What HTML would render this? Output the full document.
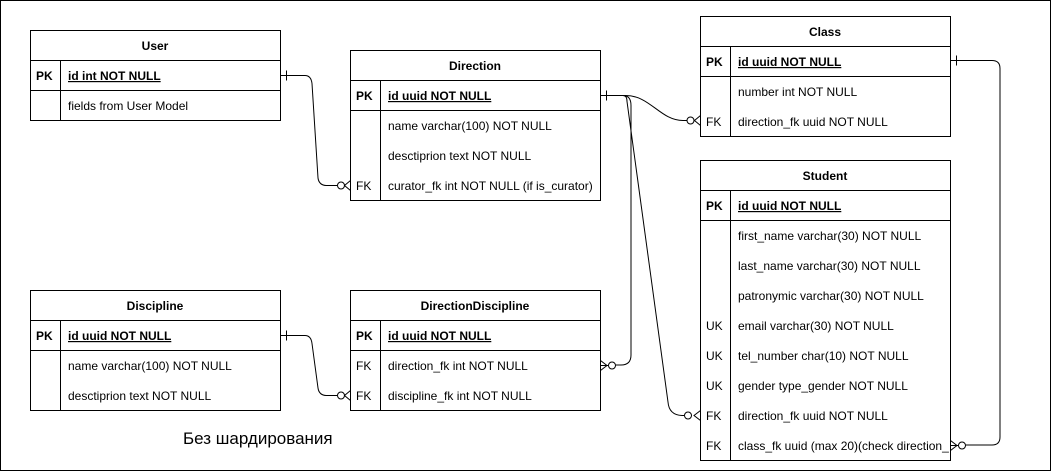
<!DOCTYPE html>
<html><head><style>
html,body{margin:0;padding:0;background:#fff;}
svg{display:block;}
text{font-family:"Liberation Sans",Arial,sans-serif;font-size:12px;fill:#000;}
.t{font-weight:bold;}
</style></head><body>
<svg width="1051" height="471" viewBox="0 0 1051 471" xmlns="http://www.w3.org/2000/svg">
<rect x="0.5" y="0.5" width="1050" height="470" fill="#fff" stroke="#000"/>
<g fill="none" stroke="#000" stroke-width="1">
<!-- User -->
<rect x="30.5" y="30.5" width="250" height="90"/>
<path d="M30.5 60.5H280.5M30.5 90.5H280.5M60.5 60.5V120.5"/>
<!-- Direction -->
<rect x="350.5" y="50.5" width="250" height="150"/>
<path d="M350.5 80.5H600.5M350.5 110.5H600.5M380.5 80.5V200.5"/>
<!-- Class -->
<rect x="700.5" y="16.5" width="250" height="120"/>
<path d="M700.5 46.5H950.5M700.5 76.5H950.5M730.5 46.5V136.5"/>
<!-- Student -->
<rect x="700.5" y="160.5" width="250" height="300"/>
<path d="M700.5 190.5H950.5M700.5 220.5H950.5M730.5 190.5V460.5"/>
<!-- Discipline -->
<rect x="30.5" y="290.5" width="250" height="120"/>
<path d="M30.5 320.5H280.5M30.5 350.5H280.5M60.5 320.5V410.5"/>
<!-- DirectionDiscipline -->
<rect x="350.5" y="290.5" width="250" height="120"/>
<path d="M350.5 320.5H600.5M350.5 350.5H600.5M380.5 320.5V410.5"/>

<!-- connectors -->
<path d="M280.5 75.5H305q6 0 7 8L318 178q1 7 8 7.5H337"/>
<path d="M286.5 70.5v10"/>
<circle cx="341" cy="185.5" r="3.5"/>
<path d="M350.5 180.5L344.5 185.5L350.5 190.5"/>

<path d="M280.5 335.5H305q6 0 7 8L318 388q1 7 8 7.5H337"/>
<path d="M286.5 330.5v10"/>
<circle cx="341" cy="395.5" r="3.5"/>
<path d="M350.5 390.5L344.5 395.5L350.5 400.5"/>

<path d="M600.5 95.5H625C650 95 660 120.5 683 120.5H687"/>
<path d="M606.5 90.5v10"/>
<circle cx="690.5" cy="120.5" r="3.5"/>
<path d="M700.5 115.5L694.5 120.5L700.5 125.5"/>

<path d="M623 95.5q8 0 8 10V355q0 10-10 10H616"/>
<circle cx="612" cy="365.5" r="3.5"/>
<path d="M600.5 360.5L607 365.5L600.5 370.5M600.5 365.5H608"/>

<path d="M623 95.5q4 0 4 6L668 402q1 13 14 13.5H684"/>
<circle cx="688" cy="415.5" r="3.5"/>
<path d="M700.5 410.5L694 415.5L700.5 420.5"/>

<path d="M950.5 60.5H992q8 0 8 8V437q0 8-8 8H966"/>
<path d="M956.5 55.5v10"/>
<circle cx="962" cy="445.5" r="3.5"/>
<path d="M950.5 440.5L957 445.5L950.5 450.5M950.5 445.5H958"/>
</g>

<text class="t" x="155" y="50" text-anchor="middle">User</text>
<text class="t" x="36" y="80">PK</text>
<text class="t" x="68" y="80" text-decoration="underline">id int NOT NULL</text>
<text x="68" y="110">fields from User Model</text>

<text class="t" x="475" y="70" text-anchor="middle">Direction</text>
<text class="t" x="356" y="100">PK</text>
<text class="t" x="388" y="100" text-decoration="underline">id uuid NOT NULL</text>
<text x="388" y="130">name varchar(100) NOT NULL</text>
<text x="388" y="160">desctiprion text NOT NULL</text>
<text x="356" y="190">FK</text>
<text x="388" y="190">curator_fk int NOT NULL (if is_curator)</text>

<text class="t" x="825" y="36" text-anchor="middle">Class</text>
<text class="t" x="706" y="66">PK</text>
<text class="t" x="738" y="66" text-decoration="underline">id uuid NOT NULL</text>
<text x="738" y="96">number int NOT NULL</text>
<text x="706" y="126">FK</text>
<text x="738" y="126">direction_fk uuid NOT NULL</text>

<text class="t" x="825" y="180" text-anchor="middle">Student</text>
<text class="t" x="706" y="210">PK</text>
<text class="t" x="738" y="210" text-decoration="underline">id uuid NOT NULL</text>
<text x="738" y="240">first_name varchar(30) NOT NULL</text>
<text x="738" y="270">last_name varchar(30) NOT NULL</text>
<text x="738" y="300">patronymic varchar(30) NOT NULL</text>
<text x="706" y="330">UK</text>
<text x="738" y="330">email varchar(30) NOT NULL</text>
<text x="706" y="360">UK</text>
<text x="738" y="360">tel_number char(10) NOT NULL</text>
<text x="706" y="390">UK</text>
<text x="738" y="390">gender type_gender NOT NULL</text>
<text x="706" y="420">FK</text>
<text x="738" y="420">direction_fk uuid NOT NULL</text>
<text x="706" y="450">FK</text>
<text x="738" y="450">class_fk uuid (max 20)(check direction_</text>

<text class="t" x="155" y="310" text-anchor="middle">Discipline</text>
<text class="t" x="36" y="340">PK</text>
<text class="t" x="68" y="340" text-decoration="underline">id uuid NOT NULL</text>
<text x="68" y="370">name varchar(100) NOT NULL</text>
<text x="68" y="400">desctiprion text NOT NULL</text>

<text class="t" x="475" y="310" text-anchor="middle">DirectionDiscipline</text>
<text class="t" x="356" y="340">PK</text>
<text class="t" x="388" y="340" text-decoration="underline">id uuid NOT NULL</text>
<text x="356" y="370">FK</text>
<text x="388" y="370">direction_fk int NOT NULL</text>
<text x="356" y="400">FK</text>
<text x="388" y="400">discipline_fk int NOT NULL</text>

<text x="183" y="444" style="font-size:17px">Без шардирования</text>
</svg>
</body></html>
